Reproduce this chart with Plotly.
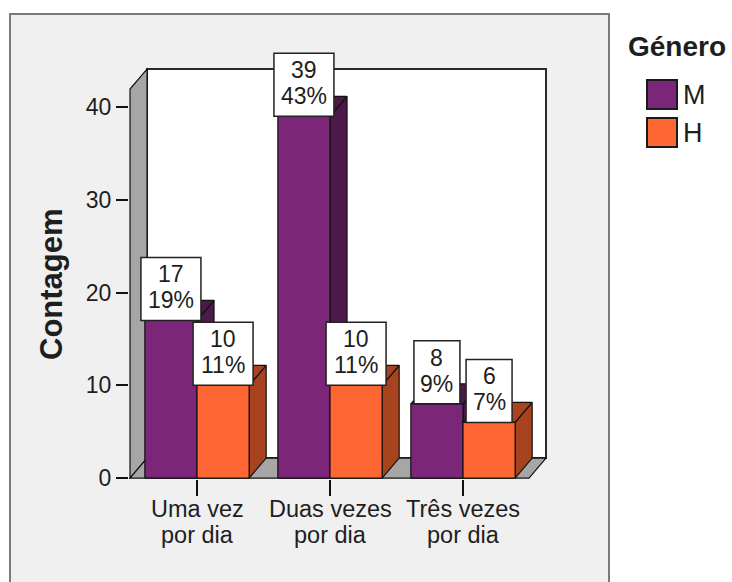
import plotly.graph_objects as go

# ---- data -------------------------------------------------------------
cat_line1 = ["Uma vez", "Duas vezes", "Três vezes"]
cat_line2 = ["por dia", "por dia", "por dia"]
series_names = ["M", "H"]
counts_m = [17, 39, 8]
counts_h = [10, 10, 6]
pct_m = ["19%", "43%", "9%"]
pct_h = ["11%", "11%", "7%"]
y_ticks = [0, 10, 20, 30, 40]

# ---- style ------------------------------------------------------------
FONT = "'Liberation Sans', Arial, sans-serif"
TXT = "#1e1e1e"
M_FRONT, M_SIDE = "#7b2678", "#4b1a4a"
H_FRONT, H_SIDE = "#fe6633", "#a8431f"
WALL_GREY = "#a6a6a6"
PANEL = "#f0f0f0"

# ---- layout geometry ----------------------------------------------------
W, H = 732, 582
ML, MR, MT, MB = 129, 182, 32, 103
PW, PH = W - ML - MR, H - MT - MB
X_RANGE = [-0.5113, 2.6541]
Y_RANGE = [-0.1, 48.094]

BAR_W = 0.392          # width of one bar in category units
DX, DY = 0.128, 2.16   # depth offset of the pseudo-3D extrusion
WALL_X0, WALL_X1 = -0.5038, 2.6241
WALL_TOP = 44.1


def paper(px, py):
    """pixel position -> paper coordinates of the plot area"""
    return (px - ML) / PW, (H - MB - py) / PH


def faces(counts, offset):
    fx, fy, sx, sy, tx, ty = [], [], [], [], [], []
    for i, v in enumerate(counts):
        xl = i + offset
        xr = xl + BAR_W
        fx += [xl, xr, xr, xl, xl, None]
        fy += [0, 0, v, v, 0, None]
        sx += [xr, xr + DX, xr + DX, xr, xr, None]
        sy += [0, DY, v + DY, v, 0, None]
        tx += [xl, xr, xr + DX, xl + DX, xl, None]
        ty += [v, v, v + DY, v + DY, v, None]
    return (fx, fy), (sx, sy), (tx, ty)


fig = go.Figure()


def poly(xy, color, name):
    fig.add_trace(go.Scatter(
        x=xy[0], y=xy[1], mode="lines", fill="toself", fillcolor=color,
        line=dict(color="#111111", width=1.2), name=name,
        hoverinfo="skip", showlegend=False))


for counts, offset, front, side, name in [
        (counts_m, -BAR_W, M_FRONT, M_SIDE, series_names[0]),
        (counts_h, 0.0, H_FRONT, H_SIDE, series_names[1])]:
    f, s, t = faces(counts, offset)
    poly(s, side, name)
    poly(t, side, name)
    poly(f, front, name)

shapes = []
# chart panel
px0, py0 = paper(10, 14)
px1, py1 = paper(609, 650)
shapes.append(dict(type="rect", xref="paper", yref="paper", x0=px0, y0=py1,
                   x1=px1, y1=py0, fillcolor=PANEL,
                   line=dict(color="#7a7a7a", width=2), layer="below"))
# back wall, left wall and floor
shapes.append(dict(type="rect", xref="x", yref="y", x0=WALL_X0 + DX, x1=WALL_X1,
                   y0=DY, y1=WALL_TOP, fillcolor="white",
                   line=dict(color="#2a2a2a", width=2), layer="below"))
shapes.append(dict(type="path", xref="x", yref="y",
                   path=(f"M {WALL_X0},0 L {WALL_X0},{WALL_TOP - DY} "
                         f"L {WALL_X0 + DX},{WALL_TOP} L {WALL_X0 + DX},{DY} Z"),
                   fillcolor=WALL_GREY, line=dict(color="#111111", width=1.2),
                   layer="below"))
shapes.append(dict(type="path", xref="x", yref="y",
                   path=(f"M {WALL_X0},0 L {WALL_X0 + DX},{DY} "
                         f"L {WALL_X1},{DY} L {WALL_X1 - DX},0 Z"),
                   fillcolor=WALL_GREY, line=dict(color="#111111", width=1.2),
                   layer="below"))

annotations = []
# value labels: white boxes sitting on each bar
for counts, pcts, offset in [(counts_m, pct_m, -BAR_W), (counts_h, pct_h, 0.0)]:
    for i, (v, p) in enumerate(zip(counts, pcts)):
        xc = i + offset + BAR_W / 2
        ndig = len(p) - 1
        bw = round(24.5 * (0.556 * ndig + 0.889)) + 11
        shapes.append(dict(type="rect", xref="x", yref="y",
                           xsizemode="pixel", ysizemode="pixel",
                           xanchor=xc, yanchor=v,
                           x0=-bw / 2, x1=bw / 2, y0=0, y1=63,
                           fillcolor="white",
                           line=dict(color="#222222", width=1.5),
                           layer="above"))
        for txt, shift in [(str(v), 46), (p, 20)]:
            annotations.append(dict(x=xc, y=v, xref="x", yref="y",
                                    text=txt, showarrow=False,
                                    yanchor="middle", yshift=shift,
                                    font=dict(family=FONT, size=23, color=TXT)))

# category labels (two lines each)
for i, (a, b) in enumerate(zip(cat_line1, cat_line2)):
    for txt, shift in [(a, -31), (b, -57)]:
        annotations.append(dict(x=i, y=0, xref="x", yref="y", text=txt,
                                showarrow=False, yanchor="middle", yshift=shift,
                                font=dict(family=FONT, size=23.5, color=TXT)))

# axis title
ax, ay = paper(51, 284)
annotations.append(dict(x=ax, y=ay, xref="paper", yref="paper",
                        text="<b>Contagem</b>", textangle=-90, showarrow=False,
                        xanchor="center", yanchor="middle",
                        font=dict(family=FONT, size=31, color=TXT)))

# legend
lx, ly = paper(626, 47)
annotations.append(dict(x=lx, y=ly, xref="paper", yref="paper",
                        text="<b>Género</b>", showarrow=False,
                        xanchor="left", yanchor="middle",
                        font=dict(family=FONT, size=28, color=TXT)))
for name, color, top in [(series_names[0], M_FRONT, 80),
                         (series_names[1], H_FRONT, 118)]:
    sx0, sy0 = paper(647, top)
    sx1, sy1 = paper(677, top + 29)
    shapes.append(dict(type="rect", xref="paper", yref="paper",
                       x0=sx0, x1=sx1, y0=sy1, y1=sy0, fillcolor=color,
                       line=dict(color="#1a1a1a", width=2)))
    tx, ty = paper(681, top + 15)
    annotations.append(dict(x=tx, y=ty, xref="paper", yref="paper",
                            text=name, showarrow=False,
                            xanchor="left", yanchor="middle",
                            font=dict(family=FONT, size=27, color=TXT)))

fig.update_layout(
    width=W, height=H,
    margin=dict(l=ML, r=MR, t=MT, b=MB, pad=0),
    paper_bgcolor="white", plot_bgcolor="rgba(0,0,0,0)",
    showlegend=False,
    shapes=shapes, annotations=annotations,
    xaxis=dict(range=X_RANGE, showgrid=False, zeroline=False, showline=False,
               tickvals=[0, 1, 2], showticklabels=False,
               ticks="outside", ticklen=16, tickwidth=1.5, tickcolor="#111111",
               fixedrange=True),
    yaxis=dict(range=Y_RANGE, showgrid=False, zeroline=False, showline=False,
               tickvals=y_ticks, ticks="outside", ticklen=12, tickwidth=1.5,
               tickcolor="#111111",
               tickfont=dict(family=FONT, size=23, color=TXT),
               fixedrange=True),
)

fig.write_html("out.html", config={"displayModeBar": False})
